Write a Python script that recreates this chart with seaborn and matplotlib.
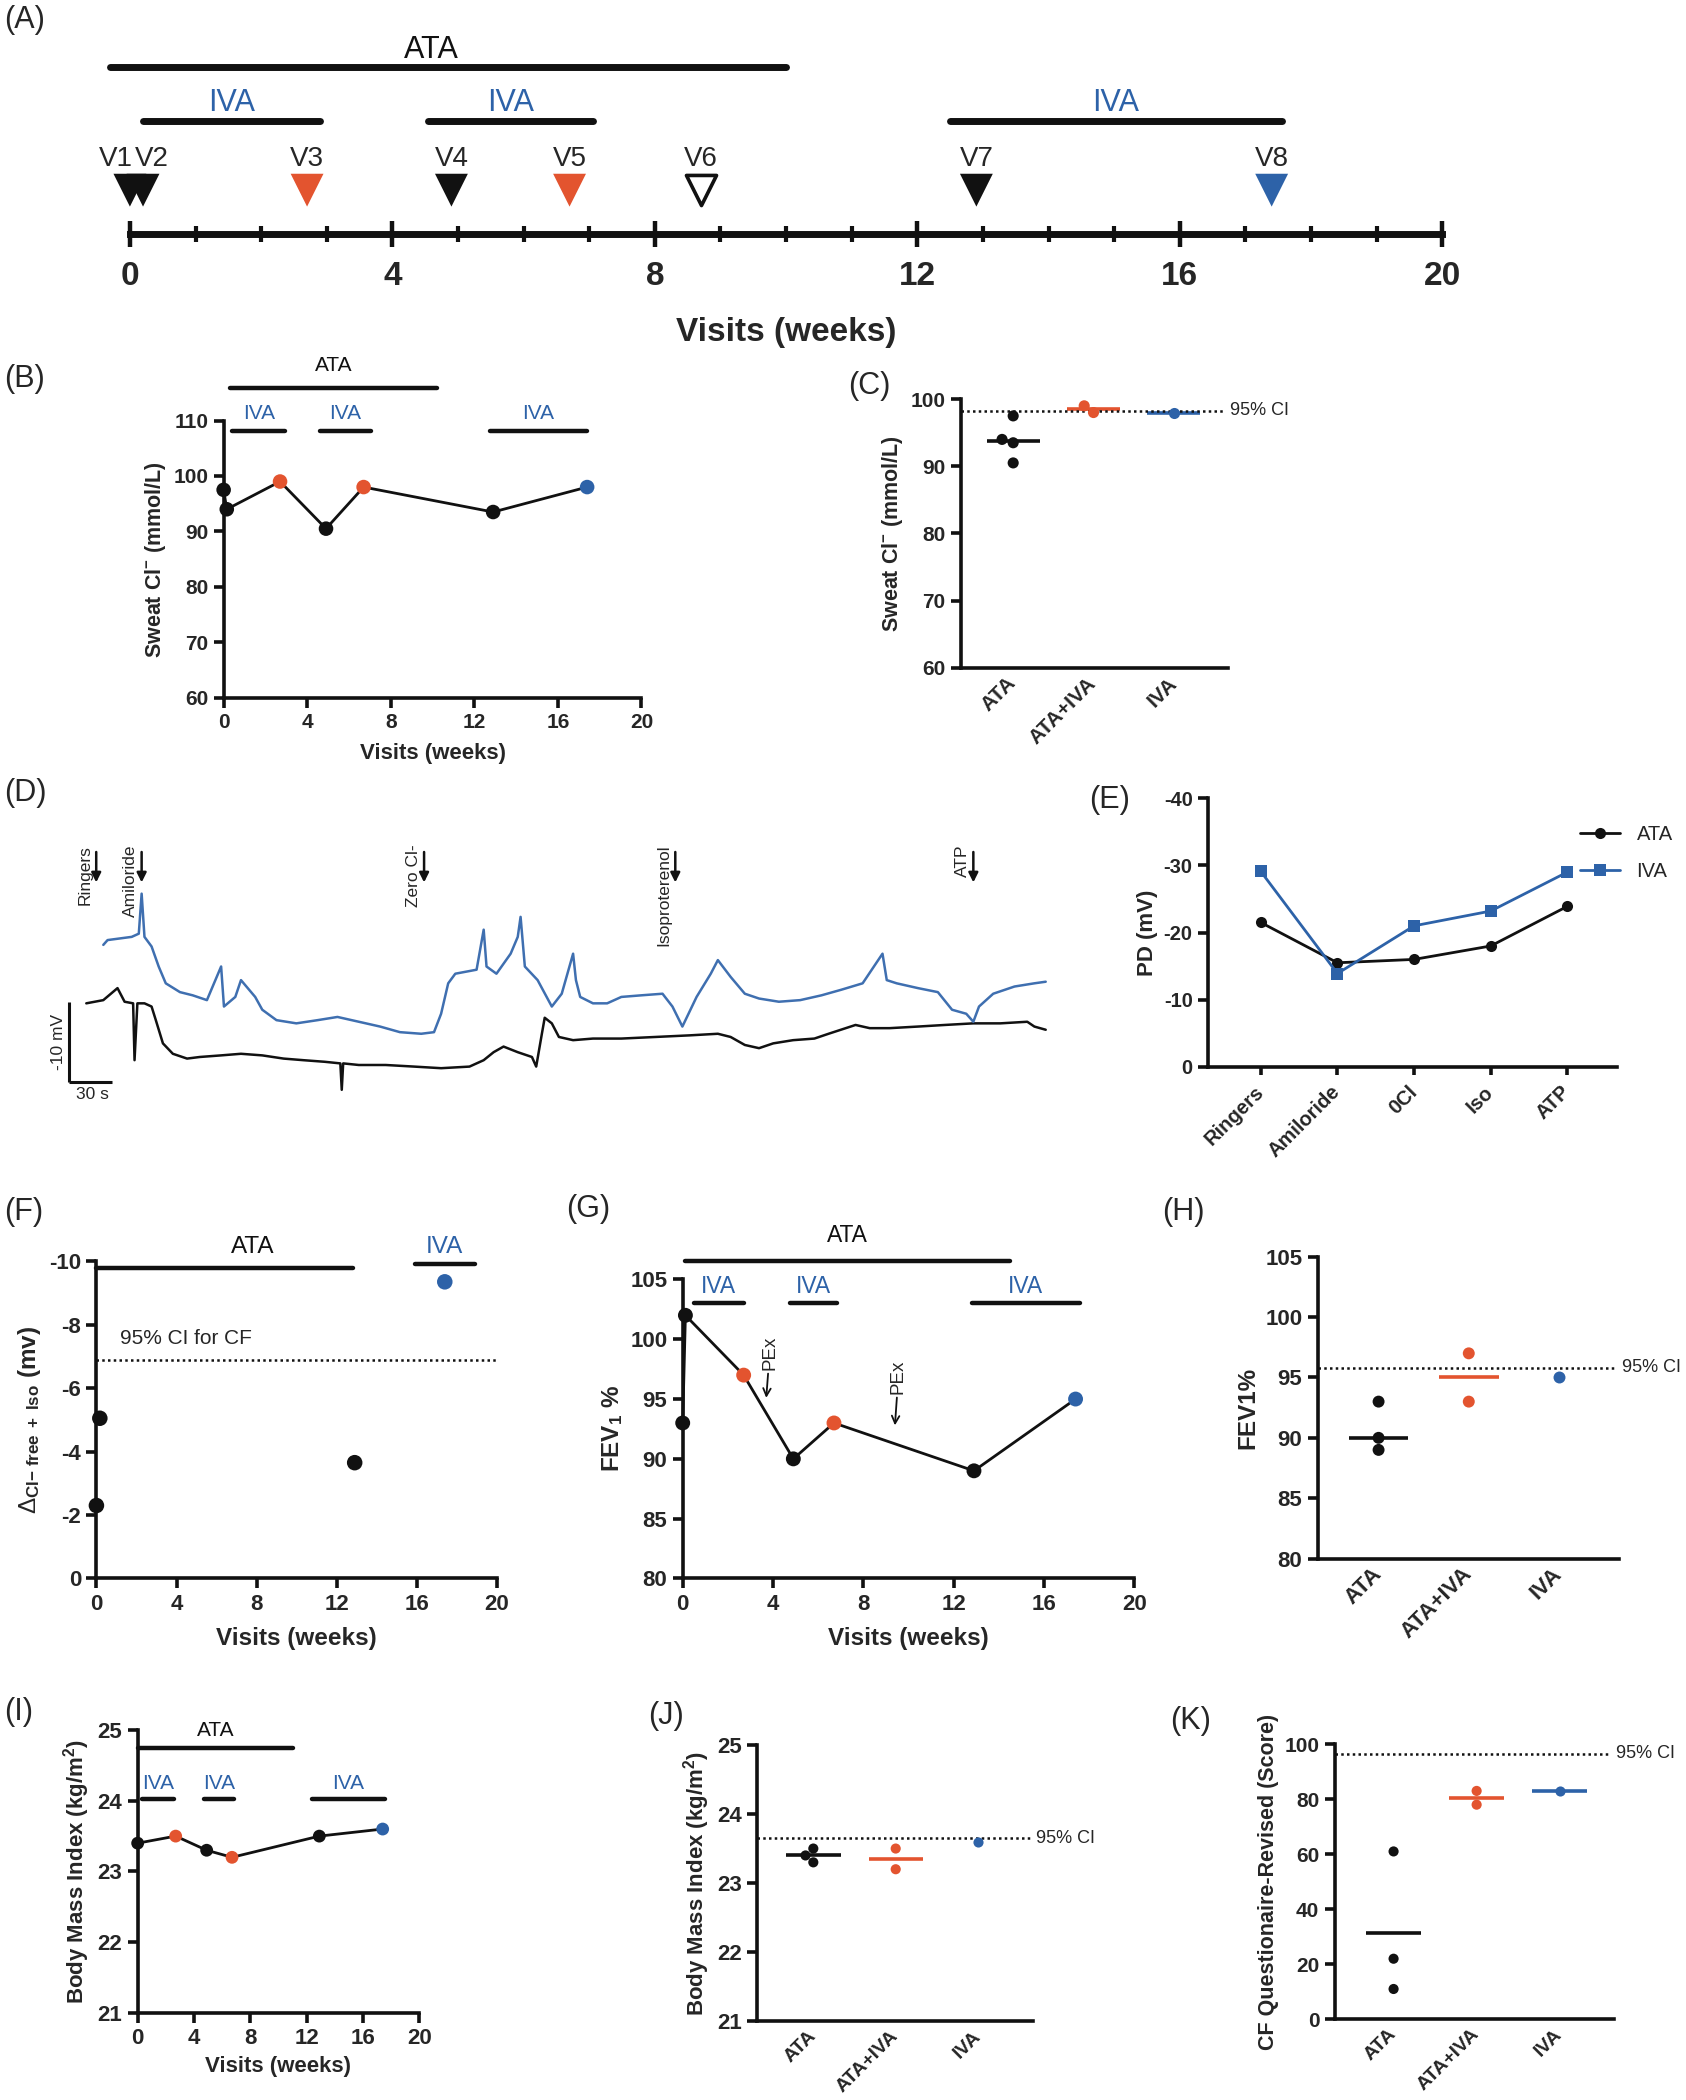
import numpy as np
import pandas as pd
import seaborn as sns
import matplotlib.pyplot as plt
from matplotlib.ticker import MultipleLocator

sns.set_theme(style="ticks")
plt.rcParams["font.family"] = ["Liberation Sans", "DejaVu Sans"]
plt.rcParams["axes.unicode_minus"] = False
plt.rcParams["mathtext.fontset"] = "custom"
plt.rcParams["mathtext.rm"] = "Liberation Sans"
plt.rcParams["mathtext.bf"] = "Liberation Sans:bold"
plt.rcParams["mathtext.it"] = "Liberation Sans:italic"

BLACK = "#111111"
ORANGE = "#E3542F"
BLUE = "#2D62A8"
palette = {"ATA": BLACK, "ATA+IVA": ORANGE, "IVA": BLUE}
groups = ["ATA", "ATA+IVA", "IVA"]

# (A) study timeline
visit_names = ["V1", "V2", "V3", "V4", "V5", "V6", "V7", "V8"]
visit_weeks = [0, 0.2, 2.7, 4.9, 6.7, 8.7, 12.9, 17.4]
visit_group = ["ATA", "ATA", "ATA+IVA", "ATA", "ATA+IVA", "washout", "ATA", "IVA"]
ata_a = (-0.3, 10.0)
iva_a = [(0.2, 2.9), (4.55, 7.05), (12.5, 17.55)]

# (B, C) sweat chloride
sweat_weeks = [0, 0.15, 2.7, 4.9, 6.7, 12.9, 17.4]
sweat_cl = [97.5, 94, 99, 90.5, 98, 93.5, 98]
sweat_group = ["ATA", "ATA", "ATA+IVA", "ATA", "ATA+IVA", "ATA", "IVA"]
sweat_ci = 98.3
ata_b = (0.3, 10.2)
iva_b = [(0.4, 2.95), (4.6, 7.05), (12.75, 17.4)]

# (D) nasal potential difference traces
ata_t = [0, 12, 22, 27, 33, 34, 36, 41, 46, 49, 54, 61, 71, 80, 95, 109, 124, 139, 153, 168,
         179, 180, 181, 192, 211, 231, 250, 270, 280, 287, 294, 304, 314, 317, 321, 323, 328, 333, 343, 357,
         377, 401, 425, 445, 454, 464, 474, 484, 498, 513, 523, 542, 552, 566, 586, 605, 625, 644, 663, 668, 676]
ata_mv = [-21.1, -21.5, -23.0, -21.3, -21.1, -14.0, -21.1, -21.1, -20.7, -19.0,
          -16.1, -14.8, -14.2, -14.4, -14.6, -14.8, -14.6, -14.2, -14.0, -13.8,
          -13.6, -10.3, -13.6, -13.4, -13.4, -13.2, -13.0, -13.2, -14.0, -15.0,
          -15.7, -15.0, -14.4, -13.2, -17.3, -19.3, -18.6, -16.9, -16.5, -16.7,
          -16.7, -16.9, -17.1, -17.3, -16.9, -15.9, -15.5, -16.1, -16.5, -16.7,
          -17.3, -18.4, -18.0, -18.0, -18.2, -18.4, -18.6, -18.6, -18.8, -18.2, -17.8]
iva_t = [12, 15, 32, 37, 39, 41, 46, 51, 56, 66, 75, 85, 95, 97, 105, 109, 119, 124, 134, 148,
         163, 177, 192, 207, 221, 236, 245, 250, 255, 260, 275, 280, 282, 289, 299, 304, 306, 309, 318, 328,
         335, 343, 345, 348, 357, 367, 377, 391, 406, 413, 420, 430, 440, 445, 454, 464, 474, 488, 503, 518,
         532, 547, 561, 564, 571, 586, 600, 610, 620, 625, 629, 639, 654, 668, 676]
iva_mv = [-28.4, -29.0, -29.4, -29.8, -34.8, -29.4, -28.2, -25.7, -23.6, -22.5,
          -22.1, -21.5, -25.7, -20.7, -21.9, -24.0, -21.9, -20.3, -19.0, -18.6,
          -19.0, -19.4, -18.8, -18.2, -17.5, -17.3, -17.5, -19.8, -23.6, -24.8,
          -25.3, -30.3, -25.7, -24.8, -27.3, -29.4, -31.9, -25.7, -24.0, -20.7,
          -22.3, -27.3, -24.0, -21.9, -21.1, -21.1, -21.9, -22.1, -22.3, -20.7,
          -18.2, -21.9, -24.8, -26.5, -24.4, -22.3, -21.7, -21.3, -21.5, -22.1,
          -22.8, -23.6, -27.3, -24.0, -23.6, -23.0, -22.5, -20.3, -19.8, -18.8,
          -20.7, -22.3, -23.2, -23.6, -23.8]
event_names = ["Ringers", "Amiloride", "Zero Cl-", "Isoproterenol", "ATP"]
event_times = [7, 39, 238, 415, 625]

# (E) PD per solution
pd_stages = ["Ringers", "Amiloride", "0Cl", "Iso", "ATP"]
pd_ata = [-21.5, -15.5, -16.0, -18.0, -23.9]
pd_iva = [-29.1, -13.9, -21.0, -23.2, -29.0]

# (F) delta Cl-free + Iso
npd_weeks = [0, 0.17, 12.9, 17.4]
npd_delta = [-2.3, -5.05, -3.65, -9.35]
npd_group = ["ATA", "ATA", "ATA", "IVA"]
npd_ci = -6.9
ata_f = (0, 12.8)
iva_f = (15.9, 18.9)

# (G, H) FEV1
fev_weeks = [0, 0.12, 2.7, 4.9, 6.7, 12.9, 17.4]
fev1 = [93, 102, 97, 90, 93, 89, 95]
fev_group = ["ATA", "ATA", "ATA+IVA", "ATA", "ATA+IVA", "ATA", "IVA"]
pex_weeks = [3.7, 9.4]
ata_g = (0.1, 14.5)
iva_g = [(0.5, 2.7), (4.75, 6.85), (12.8, 17.6)]
fevh_group = ["ATA", "ATA", "ATA", "ATA+IVA", "ATA+IVA", "IVA"]
fevh = [93, 90, 89, 97, 93, 95]
fev_ci = 95.8

# (I, J) BMI
bmi_weeks = [0, 2.7, 4.9, 6.7, 12.9, 17.4]
bmi = [23.4, 23.5, 23.3, 23.2, 23.5, 23.6]
bmi_group = ["ATA", "ATA+IVA", "ATA", "ATA+IVA", "ATA", "IVA"]
bmi_ci = 23.65
ata_i = (0, 11.05)
iva_i = [(0.3, 2.6), (4.7, 6.85), (12.35, 17.55)]

# (K) CFQ-R
cfqr_group = ["ATA", "ATA", "ATA", "ATA+IVA", "ATA+IVA", "IVA"]
cfqr = [61, 22, 11, 83, 78, 83]
cfqr_ci = 96.6

W, H = 1259, 1568
fig = plt.figure(figsize=(16.86, 21.0), dpi=100)


def add_ax(x0, x1, ytop, ybot):
    return fig.add_axes([x0 / W, 1 - ybot / H, (x1 - x0) / W, (ybot - ytop) / H])


def style(ax, tick=15, label=16):
    sns.despine(ax=ax)
    for side in ("left", "bottom"):
        ax.spines[side].set_linewidth(2.6)
        ax.spines[side].set_color(BLACK)
    ax.tick_params(width=2.6, length=7, color=BLACK, labelsize=tick, direction="out", pad=4)
    for lab in (ax.xaxis.label, ax.yaxis.label):
        lab.set_fontsize(label)
        lab.set_fontweight("bold")
    for t in ax.get_xticklabels() + ax.get_yticklabels():
        t.set_fontweight("bold")


def bar(ax, span, y, label, label_y, color, size, lw=3.2, label_x=None):
    ax.plot(list(span), [y, y], color=BLACK, lw=lw, solid_capstyle="round", clip_on=False)
    x = sum(span) / 2 if label_x is None else label_x
    ax.text(x, label_y, label, color=color, ha="center", va="center", fontsize=size, clip_on=False)


def ci_line(ax, ci, text="95% CI", size=13, xmax=0.99):
    ax.axhline(ci, xmin=0, xmax=xmax, color=BLACK, lw=1.8, ls=(0, (1, 1.3)), clip_on=False)
    if text:
        ax.text(xmax + 0.02, ci, text, transform=ax.get_yaxis_transform(), ha="left",
                va="center", fontsize=size)


def dotplot(ax, df, col, ci, ylim, step, xlim, size, center=np.median, tick=15, label=16,
            single_line=True, xtick=None):
    ax.set_ylim(*ylim)
    sns.swarmplot(data=df, x="group", y=col, hue="group", order=groups, hue_order=groups,
                  palette=palette, size=size, linewidth=0, legend=False, ax=ax, zorder=3, clip_on=False)
    for i, g in enumerate(groups):
        vals = df.loc[df["group"] == g, col]
        if len(vals) < 2 and not single_line:
            continue
        ax.hlines(center(vals), i - 0.33, i + 0.33, color=palette[g], lw=2.6, zorder=2)
    ci_line(ax, ci)
    ax.set_xlim(*xlim)
    ax.set_ylim(*ylim)
    ax.yaxis.set_major_locator(MultipleLocator(step))
    ax.set_xlabel("")
    ax.set_xticks(range(len(groups)))
    ax.set_xticklabels(groups, rotation=45, ha="right", va="center", rotation_mode="anchor")
    style(ax, tick, label)
    ax.tick_params(axis="x", length=0, pad=9, labelsize=xtick or tick)


def visits_axis(ax, ylim, step, tick=15, label=16, pad=6):
    ax.set_xlim(0, 20)
    ax.set_ylim(*ylim)
    ax.xaxis.set_major_locator(MultipleLocator(4))
    ax.yaxis.set_major_locator(MultipleLocator(step))
    ax.set_xlabel("Visits (weeks)", labelpad=pad)
    style(ax, tick, label)


# ---------------- (A)
axA = add_ax(97, 1077, 25, 175)
axA.patch.set_alpha(0)
axA.set_xlim(0, 20)
axA.set_ylim(0, 150)
for s in ("top", "right", "left"):
    axA.spines[s].set_visible(False)
axA.spines["bottom"].set_linewidth(5)
axA.spines["bottom"].set_color(BLACK)
axA.set_yticks([])
axA.xaxis.set_major_locator(MultipleLocator(4))
axA.xaxis.set_minor_locator(MultipleLocator(1))
axA.tick_params(axis="x", which="major", direction="inout", length=19, width=3.2,
                color=BLACK, labelsize=24, pad=10)
axA.tick_params(axis="x", which="minor", direction="inout", length=12, width=3, color=BLACK)
for t in axA.get_xticklabels():
    t.set_fontweight("bold")
axA.set_xlabel("Visits (weeks)", fontsize=24, fontweight="bold", labelpad=18)
bar(axA, ata_a, 125, "ATA", 138, BLACK, 22, lw=5, label_x=4.6)
for span in iva_a:
    bar(axA, span, 85, "IVA", 98, BLUE, 22, lw=5)
visits = pd.DataFrame({"week": visit_weeks, "group": visit_group, "name": visit_names})
filled = visits[visits["group"] != "washout"]
sns.scatterplot(data=filled, x="week", y=np.full(len(filled), 33), hue="group", palette=palette,
                marker="v", s=560, linewidth=0, legend=False, ax=axA, clip_on=False, zorder=3)
hollow = visits[visits["group"] == "washout"]
axA.scatter(hollow["week"], np.full(len(hollow), 33), marker="v", s=470, facecolor="white",
            edgecolor=BLACK, linewidth=2.6, clip_on=False, zorder=3)
for name, wk in zip(visit_names, visit_weeks):
    ha = {"V1": "right", "V2": "left"}.get(name, "center")
    dx = {"V1": 0.05, "V2": -0.12}.get(name, 0)
    axA.text(wk + dx, 56, name, ha=ha, va="center", fontsize=20, clip_on=False)
axA.set_ylabel("")

# ---------------- (B)
df_sweat = pd.DataFrame({"week": sweat_weeks, "cl": sweat_cl, "group": sweat_group})
axB = add_ax(167, 479, 314, 521)
sns.lineplot(data=df_sweat, x="week", y="cl", color=BLACK, lw=2, estimator=None, sort=False,
             ax=axB, clip_on=False)
sns.scatterplot(data=df_sweat, x="week", y="cl", hue="group", palette=palette, s=110,
                linewidth=0, legend=False, ax=axB, zorder=3, clip_on=False)
visits_axis(axB, (60, 110), 10, 15, 16, pad=8)
axB.set_ylabel(r"Sweat Cl$^{\mathbf{-}}$ (mmol/L)", fontsize=15.5, fontweight="bold")
bar(axB, ata_b, 115.8, "ATA", 119.9, BLACK, 15)
for span in iva_b:
    bar(axB, span, 108.1, "IVA", 111.3, BLUE, 15)

# ---------------- (C)
axC = add_ax(717.6, 916.7, 298, 498.6)
dotplot(axC, df_sweat, "cl", sweat_ci, (60, 100), 10, (-0.65, 2.67), 8, tick=15, label=15.5)
axC.set_ylabel(r"Sweat Cl$^{\mathbf{-}}$ (mmol/L)", fontsize=15.5, fontweight="bold")

# ---------------- (D)
axD = add_ax(51.5, 783, 624.8, 821.5)
axD.set_xlim(-12.2, 678)
axD.set_ylim(-9.0, -41.9)
axD.axis("off")
sns.lineplot(x=ata_t, y=ata_mv, color=BLACK, lw=1.8, estimator=None, sort=False, ax=axD)
sns.lineplot(x=iva_t, y=iva_mv, color="#3F6FB0", lw=1.8, estimator=None, sort=False, ax=axD)
for name, t in zip(event_names, event_times):
    axD.annotate("", xy=(t, -36.2), xytext=(t, -40.0),
                 arrowprops=dict(arrowstyle="-|>", color=BLACK, lw=1.8, mutation_scale=14,
                                 shrinkA=0, shrinkB=0), annotation_clip=False)
    axD.text(t - 2.5, -40.9, name, rotation=90, ha="right", va="top", fontsize=12.5, clip_on=False)
axD.plot([-12, -12], [-21.3, -11.3], color=BLACK, lw=2.2, clip_on=False, solid_capstyle="butt")
axD.plot([-12, 18], [-11.3, -11.3], color=BLACK, lw=2.2, clip_on=False, solid_capstyle="butt")
axD.text(-14.5, -16.3, "-10 mV", rotation=90, ha="right", va="center", fontsize=12.5)
axD.text(4, -10.6, "30 s", ha="center", va="top", fontsize=12.5)

# ---------------- (E)
df_pd = pd.DataFrame({"stage": pd_stages * 2, "pd": pd_ata + pd_iva,
                      "treatment": ["ATA"] * 5 + ["IVA"] * 5})
axE = add_ax(902, 1207.6, 596, 796.6)
sns.pointplot(data=df_pd, x="stage", y="pd", hue="treatment", order=pd_stages,
              palette={"ATA": BLACK, "IVA": BLUE}, markers=["o", "s"], linestyles=["-", "-"],
              errorbar=None, ax=axE, markersize=8, linewidth=2, markeredgewidth=0)
axE.set_xlim(-0.69, 4.65)
axE.set_ylim(0, -40)
axE.yaxis.set_major_locator(MultipleLocator(10))
axE.set_xlabel("")
axE.set_ylabel("PD (mV)")
axE.set_xticks(range(len(pd_stages)))
axE.set_xticklabels(pd_stages, rotation=45, ha="right", va="center", rotation_mode="anchor")
style(axE, 14.5, 16)
axE.tick_params(axis="x", length=6, pad=10)
hdl, lbl = axE.get_legend_handles_labels()
axE.legend(hdl, lbl, loc="upper left", bbox_to_anchor=(0.89, 0.93), frameon=False,
           fontsize=14.5, handlelength=2.0, labelspacing=0.9, borderaxespad=0)

# ---------------- (F)
df_npd = pd.DataFrame({"week": npd_weeks, "delta": npd_delta, "group": npd_group})
axF = add_ax(72, 371, 941.7, 1178.6)
sns.scatterplot(data=df_npd, x="week", y="delta", hue="group", palette=palette, s=125,
                linewidth=0, legend=False, ax=axF, zorder=3, clip_on=False)
axF.set_xlim(0, 20)
axF.set_ylim(0, -10)
axF.xaxis.set_major_locator(MultipleLocator(4))
axF.yaxis.set_major_locator(MultipleLocator(2))
axF.set_xlabel("Visits (weeks)", labelpad=9)
axF.set_ylabel(r"$\Delta_{\mathbf{Cl{-}\ free\ +\ Iso}}$ (mv)")
style(axF, 16, 17.5)
ci_line(axF, npd_ci, text=None, xmax=1.0)
axF.text(1.2, npd_ci - 0.65, "95% CI for CF", ha="left", va="center", fontsize=15)
bar(axF, ata_f, -9.8, "ATA", -10.45, BLACK, 17.5, label_x=7.8)
bar(axF, iva_f, -9.9, "IVA", -10.45, BLUE, 17.5, label_x=17.4)

# ---------------- (G)
df_fev = pd.DataFrame({"week": fev_weeks, "fev": fev1, "group": fev_group})
axG = add_ax(509.8, 847, 955.3, 1178.6)
sns.lineplot(data=df_fev, x="week", y="fev", color=BLACK, lw=2, estimator=None, sort=False,
             ax=axG, clip_on=False)
sns.scatterplot(data=df_fev, x="week", y="fev", hue="group", palette=palette, s=115,
                linewidth=0, legend=False, ax=axG, zorder=3, clip_on=False)
visits_axis(axG, (80, 105), 5, 16, 17.5, pad=9)
axG.set_ylabel(r"FEV$_{\mathbf{1}}$ %", fontsize=17.5, fontweight="bold")
bar(axG, ata_g, 106.5, "ATA", 108.7, BLACK, 16.5)
for span in iva_g:
    bar(axG, span, 103.0, "IVA", 104.4, BLUE, 16.5)
for wk, tip, base in zip(pex_weeks, [95.1, 92.8], [97.4, 95.4]):
    axG.annotate("PEx", xy=(wk, tip), xytext=(wk + 0.15, base), rotation=90, ha="center",
                 va="bottom", fontsize=13.5,
                 arrowprops=dict(arrowstyle="->", color=BLACK, lw=1.3, shrinkA=0, shrinkB=0))

# ---------------- (H)
df_fevh = pd.DataFrame({"group": fevh_group, "fev": fevh})
axH = add_ax(983.9, 1208.6, 938.4, 1163.7)
dotplot(axH, df_fevh, "fev", fev_ci, (80, 105), 5, (-0.676, 2.66), 8.6, tick=16, label=17.5,
        single_line=False)
axH.set_ylabel("FEV1%")

# ---------------- (I)
df_bmi = pd.DataFrame({"week": bmi_weeks, "bmi": bmi, "group": bmi_group})
axI = add_ax(102.8, 313.1, 1291.8, 1502.9)
sns.lineplot(data=df_bmi, x="week", y="bmi", color=BLACK, lw=2, estimator=None, sort=False,
             ax=axI, clip_on=False)
sns.scatterplot(data=df_bmi, x="week", y="bmi", hue="group", palette=palette, s=85,
                linewidth=0, legend=False, ax=axI, zorder=3, clip_on=False)
visits_axis(axI, (21, 25), 1, 16, 16, pad=5)
axI.set_ylabel(r"Body Mass Index (kg/m$^{\mathbf{2}}$)", fontsize=16, fontweight="bold")
bar(axI, ata_i, 24.75, "ATA", 25.0, BLACK, 15)
for span in iva_i:
    bar(axI, span, 24.03, "IVA", 24.24, BLUE, 15)

# ---------------- (J)
axJ = add_ax(565.5, 771.6, 1303, 1509)
dotplot(axJ, df_bmi, "bmi", bmi_ci, (21, 25), 1, (-0.68, 2.67), 7.3, tick=16, label=16,
        single_line=False, xtick=14)
axJ.set_ylabel(r"Body Mass Index (kg/m$^{\mathbf{2}}$)", fontsize=16, fontweight="bold")

# ---------------- (K)
df_cfqr = pd.DataFrame({"group": cfqr_group, "score": cfqr})
axK = add_ax(996.6, 1205, 1302.3, 1507.7)
dotplot(axK, df_cfqr, "score", cfqr_ci, (0, 100), 20, (-0.71, 2.65), 7.3, center=np.mean,
        tick=15, label=15.5, xtick=14)
axK.set_ylabel("CF Questionaire-Revised (Score)")

# panel letters
for letter, x, y in [("A", 3, 15), ("B", 3, 283), ("C", 633, 288), ("D", 3, 592),
                     ("E", 813, 597), ("F", 3, 905), ("G", 423, 903), ("H", 868, 905),
                     ("I", 3, 1278), ("J", 484, 1281), ("K", 874, 1285)]:
    fig.text(x / W, 1 - y / H, f"({letter})", ha="left", va="center", fontsize=22)

fig.savefig("out.png", dpi=100)
